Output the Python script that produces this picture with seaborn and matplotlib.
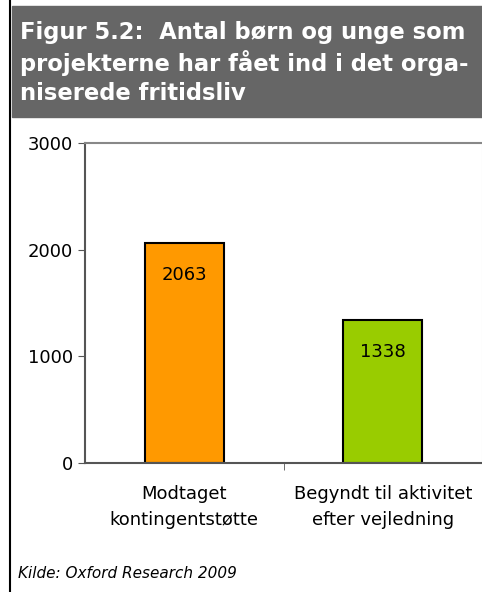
import matplotlib
matplotlib.use('Agg')
import matplotlib.pyplot as plt
import seaborn as sns
import pandas as pd
from matplotlib.patches import Rectangle

# Data
categories = ['Modtaget\nkontingentstøtte', 'Begyndt til aktivitet\nefter vejledning']
values = [2063, 1338]
bar_colors = ['#FF9900', '#99CC00']
y_ticks = [0, 1000, 2000, 3000]

title = 'Figur 5.2:  Antal børn og unge som\nprojekterne har fået ind i det orga-\nniserede fritidsliv'
source = 'Kilde: Oxford Research 2009'

sns.set_style('white')
plt.rcParams['font.family'] = ['DejaVu Sans']
plt.rcParams['text.color'] = 'black'
plt.rcParams['xtick.color'] = 'black'
plt.rcParams['ytick.color'] = 'black'

W, H = 482, 592
fig = plt.figure(figsize=(W / 100, H / 100), dpi=100)

# grey title banner and left border line
fig.patches.append(Rectangle((12 / W, 1 - 117 / H), 1 - 12 / W, 111 / H,
                             transform=fig.transFigure, color='#666666', zorder=0))
fig.add_artist(plt.Line2D([10 / W, 10 / W], [0, 1], transform=fig.transFigure,
                          color='black', lw=1.5))
fig.text(20 / W, 1 - 21 / H, title, color='white', fontsize=16.3, fontweight='bold',
         va='top', ha='left', linespacing=1.3)

ax = fig.add_axes([85 / W, 1 - 463 / H, 1 - 85 / W, (463 - 143) / H])
df = pd.DataFrame({'Kategori': categories, 'Antal': values})
sns.barplot(data=df, x='Kategori', y='Antal', hue='Kategori', palette=bar_colors,
            saturation=1, legend=False, width=0.4, edgecolor='black', linewidth=1.5, ax=ax)

for i, v in enumerate(values):
    ax.text(i, v - 300, str(v), ha='center', va='center', fontsize=13, color='black')

ax.set_xlim(-0.5, 1.5)
ax.set_ylim(0, 3000)
ax.set_yticks(y_ticks)
ax.set_yticklabels([str(t) for t in y_ticks], fontsize=13)
ax.set_xticks([0.5], minor=True)
ax.set_xticks([0, 1])
ax.set_xticklabels(categories, fontsize=13, linespacing=1.55)
ax.tick_params(axis='x', which='major', length=0, pad=16)
ax.tick_params(axis='x', which='minor', length=5, color='#555555', direction='out', bottom=True)
ax.tick_params(axis='y', length=5, color='#555555', direction='out', left=True)
ax.set_xlabel('')
ax.set_ylabel('')

for s in ['left', 'bottom']:
    ax.spines[s].set_color('#555555')
    ax.spines[s].set_linewidth(1.5)
ax.spines['top'].set_color('#888888')
ax.spines['top'].set_linewidth(1.5)
ax.spines['right'].set_color('#dddddd')

fig.text(18 / W, 1 - 573 / H, source, fontsize=11, style='italic', va='center', ha='left')

fig.savefig('out.png', dpi=100)
